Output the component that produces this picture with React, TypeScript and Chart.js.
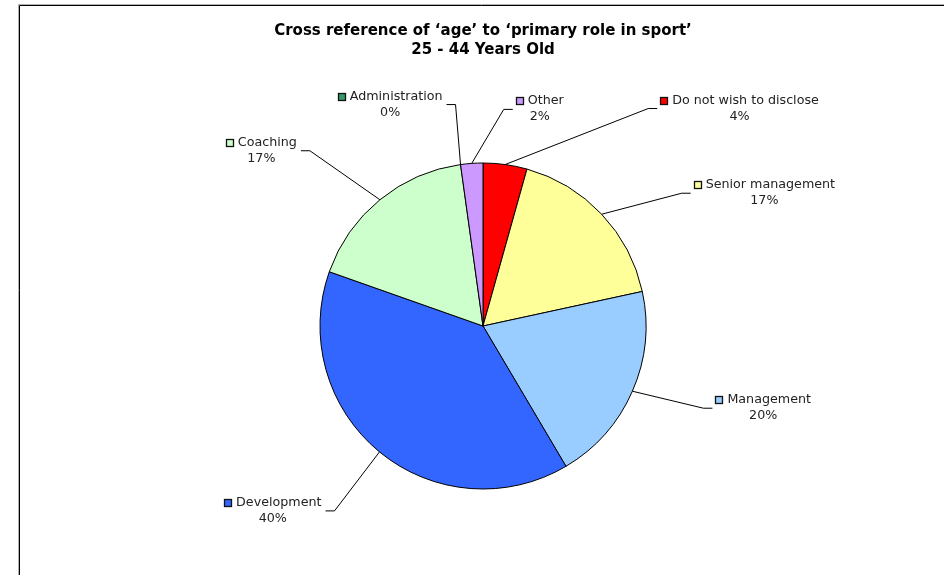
import React, { useEffect, useRef } from "react";
import { Chart, registerables } from "chart.js";

Chart.register(...registerables);

const titleLines = ["Cross reference of \u2018age\u2019 to \u2018primary role in sport\u2019", "25 - 44 Years Old"];
const categories = [
  "Do not wish to disclose",
  "Senior management",
  "Management",
  "Development",
  "Coaching",
  "Administration",
  "Other",
];
const shareValues = [4.35, 17.25, 19.9, 38.9, 17.4, 0, 2.2];
const percentLabels = ["4%", "17%", "20%", "40%", "17%", "0%", "2%"];
const sliceColors = ["#FF0000", "#FFFF99", "#99CCFF", "#3366FF", "#CCFFCC", "#339966", "#CC99FF"];

// leader-line elbow offsets from each slice's outer mid-point (layout only)
const leaderOffsets: [number, number][] = [
  [143, -56],
  [80, -21],
  [71, 17],
  [-45, 59],
  [-70, -49],
  [-5, -60],
  [32, -54],
];

const LABEL_FONT = '12.7px "DejaVu Sans", Verdana, sans-serif';
const TITLE_FONT = 'bold 15px "DejaVu Sans", Verdana, sans-serif';

const framePlugin = {
  id: "frame",
  beforeDraw(chart: any) {
    const ctx = chart.ctx;
    ctx.save();
    ctx.fillStyle = "#ffffff";
    ctx.fillRect(0, 0, chart.width, chart.height);
    ctx.lineWidth = 1;
    ctx.strokeStyle = "#b0b0b0";
    ctx.beginPath();
    ctx.moveTo(18.5, chart.height);
    ctx.lineTo(18.5, 4.5);
    ctx.lineTo(chart.width, 4.5);
    ctx.stroke();
    ctx.strokeStyle = "#000000";
    ctx.beginPath();
    ctx.moveTo(19.5, chart.height);
    ctx.lineTo(19.5, 5.5);
    ctx.lineTo(chart.width, 5.5);
    ctx.stroke();
    ctx.restore();
  },
};

const titlePlugin = {
  id: "titleText",
  afterDraw(chart: any) {
    const ctx = chart.ctx;
    const meta = chart.getDatasetMeta(0);
    const cx = meta.data[0].x;
    ctx.save();
    ctx.font = TITLE_FONT;
    ctx.fillStyle = "#000000";
    ctx.textAlign = "center";
    ctx.textBaseline = "middle";
    ctx.fillText(titleLines[0], cx, 31);
    ctx.fillText(titleLines[1], cx, 50);
    ctx.restore();
  },
};

const labelPlugin = {
  id: "sliceLabels",
  afterDatasetsDraw(chart: any) {
    const ctx = chart.ctx;
    const meta = chart.getDatasetMeta(0);
    ctx.save();
    ctx.font = LABEL_FONT;
    ctx.textBaseline = "middle";
    meta.data.forEach((arc: any, i: number) => {
      const mid = (arc.startAngle + arc.endAngle) / 2;
      const r = arc.outerRadius;
      const px = arc.x + Math.cos(mid) * r;
      const py = arc.y + Math.sin(mid) * r;
      const [dx, dy] = leaderOffsets[i];
      const ex = px + dx;
      const ey = py + dy;
      const dir = dx >= 0 ? 1 : -1;
      const hx = ex + dir * 9;
      ctx.strokeStyle = "#000000";
      ctx.lineWidth = 1;
      ctx.beginPath();
      ctx.moveTo(px, py);
      ctx.lineTo(ex, ey);
      ctx.lineTo(hx, ey);
      ctx.stroke();

      const name = categories[i];
      const pct = percentLabels[i];
      const box = 8;
      const gap = 4;
      const nameW = ctx.measureText(name).width;
      const line1W = box + gap + nameW;
      const pctW = ctx.measureText(pct).width;
      const blockW = Math.max(line1W, pctW);
      const left = dir > 0 ? hx + 3 : hx - 4 - blockW;
      const l1y = Math.round(ey - 8);
      const l2y = Math.round(ey + 8);
      const l1x = left + (blockW - line1W) / 2;
      ctx.fillStyle = sliceColors[i];
      ctx.fillRect(Math.round(l1x), l1y - 4, box, box);
      ctx.strokeStyle = "#111111";
      ctx.lineWidth = 1.3;
      ctx.strokeRect(Math.round(l1x) + 0.5, l1y - 4 + 0.5, box - 1, box - 1);
      ctx.lineWidth = 1;
      ctx.fillStyle = "#222222";
      ctx.textAlign = "left";
      ctx.fillText(name, l1x + box + gap, l1y);
      ctx.textAlign = "center";
      ctx.fillText(pct, left + blockW / 2, l2y);
    });
    ctx.restore();
  },
};

export default function App() {
  const canvasRef = useRef<HTMLCanvasElement | null>(null);

  useEffect(() => {
    const canvas = canvasRef.current;
    if (!canvas) return;
    const chart = new Chart(canvas, {
      type: "pie",
      data: {
        labels: categories,
        datasets: [
          {
            data: shareValues,
            backgroundColor: sliceColors,
            borderColor: "#000000",
            borderWidth: 1,
            radius: 163,
          } as any,
        ],
      },
      options: {
        responsive: false,
        animation: false,
        devicePixelRatio: 1,
        layout: { padding: { left: 320, right: 298, top: 163, bottom: 86 } },
        plugins: {
          legend: { display: false },
          title: { display: false },
          tooltip: { enabled: false },
        },
      } as any,
      plugins: [framePlugin, titlePlugin, labelPlugin],
    });
    return () => chart.destroy();
  }, []);

  return (
    <div style={{ position: "fixed", left: 0, top: 0, width: 944, height: 575, background: "#fff" }}>
      <canvas ref={canvasRef} width={944} height={575} style={{ width: 944, height: 575, display: "block" }} />
    </div>
  );
}
